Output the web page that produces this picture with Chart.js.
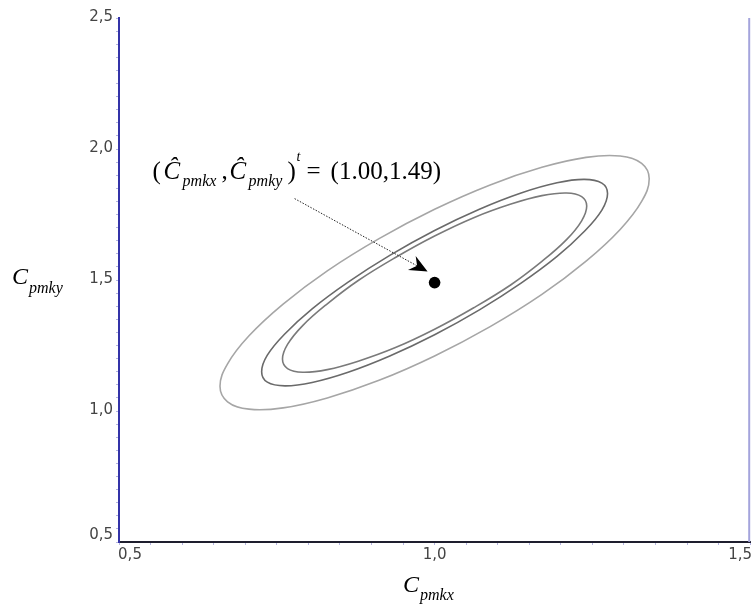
<!DOCTYPE html>
<html>
<head>
<meta charset="utf-8">
<script src="https://cdn.jsdelivr.net/npm/chart.js@4"></script>
<style>
  html, body { margin: 0; padding: 0; background: #fff; }
</style>
</head>
<body>
<canvas id="myChart" width="756" height="606"></canvas>
<script>
// tick labels
const xTicks = [0.5, 1.0, 1.5];
const yTicks = [0.5, 1.0, 1.5, 2.0, 2.5];

// point estimate
const estimate = [[1.00, 1.49]];

// confidence regions (inner, middle, outer)
const ellipseInner = [
    [1.241, 1.782], [1.233, 1.818], [1.209, 1.832], [1.170, 1.822], [1.121, 1.790], [1.062, 1.738],
    [1.000, 1.668], [0.938, 1.586], [0.879, 1.498], [0.830, 1.409], [0.791, 1.326], [0.767, 1.254],
    [0.759, 1.198], [0.767, 1.162], [0.791, 1.148], [0.830, 1.158], [0.879, 1.190], [0.938, 1.242],
    [1.000, 1.312], [1.062, 1.394], [1.121, 1.482], [1.170, 1.571], [1.209, 1.654], [1.233, 1.726]
];
const ellipseMiddle = [
    [1.274, 1.830], [1.265, 1.870], [1.237, 1.884], [1.194, 1.871], [1.137, 1.832], [1.071, 1.770],
    [1.000, 1.689], [0.929, 1.594], [0.863, 1.492], [0.806, 1.390], [0.763, 1.295], [0.735, 1.213],
    [0.726, 1.150], [0.735, 1.110], [0.763, 1.096], [0.806, 1.109], [0.863, 1.148], [0.929, 1.210],
    [1.000, 1.291], [1.071, 1.386], [1.137, 1.488], [1.194, 1.590], [1.237, 1.685], [1.265, 1.767]
];
const ellipseOuter = [
    [1.340, 1.886], [1.328, 1.945], [1.294, 1.973], [1.240, 1.968], [1.170, 1.930], [1.088, 1.863],
    [1.000, 1.770], [0.912, 1.658], [0.830, 1.535], [0.760, 1.408], [0.706, 1.287], [0.672, 1.180],
    [0.660, 1.094], [0.672, 1.035], [0.706, 1.007], [0.760, 1.012], [0.830, 1.050], [0.912, 1.117],
    [1.000, 1.210], [1.088, 1.322], [1.170, 1.445], [1.240, 1.572], [1.294, 1.693], [1.328, 1.800]
];

function toPoints(arr) {
    return arr.map(p => ({ x: p[0], y: p[1] }));
}

// closed loop: one extra point on each side so the spline has no kink at the seam,
// the two outer segments are left undrawn
function loopPoints(arr) {
    const n = arr.length;
    return toPoints([arr[n - 1]].concat(arr, [arr[0], arr[1]]));
}

function fmt(v) {
    return v.toFixed(1).replace(".", ",");
}

function ellipseSet(arr, color) {
    const last = arr.length + 2;
    return {
        data: loopPoints(arr),
        showLine: true,
        borderColor: color,
        borderWidth: 1.6,
        pointRadius: 0,
        tension: 0.4,
        fill: false,
        segment: {
            borderColor: c => (c.p0DataIndex === 0 || c.p1DataIndex === last ? "rgba(0,0,0,0)" : undefined),
        },
    };
}

// text, arrow, frame and tick labels
const extras = {
    id: "extras",
    afterDraw(chart) {
        const ctx = chart.ctx;
        const a = chart.chartArea;
        const xs = chart.scales.x;
        const ys = chart.scales.y;
        ctx.save();

        // right frame line
        ctx.strokeStyle = "#a4a4dc";
        ctx.lineWidth = 2;
        ctx.beginPath();
        ctx.moveTo(a.right - 1, a.top);
        ctx.lineTo(a.right - 1, a.bottom);
        ctx.stroke();

        // tick labels
        ctx.font = '15px "DejaVu Sans"';
        ctx.fillStyle = "#444";
        ctx.textBaseline = "middle";
        ctx.textAlign = "center";
        xTicks.forEach(v => {
            let px = xs.getPixelForValue(v);
            px = Math.min(Math.max(px, a.left + 11), a.right - 10);
            ctx.fillText(fmt(v), px, a.bottom + 13);
        });
        ctx.textAlign = "right";
        yTicks.forEach(v => {
            let py = ys.getPixelForValue(v);
            py = Math.min(py, a.bottom - 6);
            ctx.fillText(fmt(v), a.left - 6, py - 1);
        });

        // axis titles
        ctx.fillStyle = "#000";
        ctx.textAlign = "left";
        ctx.textBaseline = "alphabetic";
        ctx.font = 'italic 24px "Liberation Serif"';
        ctx.fillText("C", 12, 284);
        ctx.font = 'italic 16px "Liberation Serif"';
        ctx.fillText("pmky", 29, 293);
        ctx.font = 'italic 24px "Liberation Serif"';
        ctx.fillText("C", 403, 592);
        ctx.font = 'italic 16px "Liberation Serif"';
        ctx.fillText("pmkx", 420, 600);

        // annotation, anchored on the estimate point
        const dx = xs.getPixelForValue(estimate[0][0]) - 437;
        const dy = ys.getPixelForValue(estimate[0][1]) - 279;
        const parts = [
            ["(", 155, 175, '25px "Liberation Serif"'],
            ["\u0108", 166, 175, 'italic 25px "Liberation Serif"'],
            ["pmkx", 185, 182, 'italic 16px "Liberation Serif"'],
            [",", 224, 175, '25px "Liberation Serif"'],
            ["\u0108", 232, 175, 'italic 25px "Liberation Serif"'],
            ["pmky", 251, 182, 'italic 16px "Liberation Serif"'],
            [")", 290, 175, '25px "Liberation Serif"'],
            ["t", 299, 157, 'italic 14px "Liberation Serif"'],
            ["=", 309, 175, '25px "Liberation Serif"'],
            ["(1.00,1.49)", 333, 175, '25px "Liberation Serif"'],
        ];
        parts.forEach(p => {
            ctx.font = p[3];
            ctx.fillText(p[0], p[1] + dx, p[2] + dy);
        });

        // dotted arrow
        const sx = 297 + dx, sy = 195 + dy;
        const tx = 430 + dx, ty = 268 + dy;
        const ang = Math.atan2(ty - sy, tx - sx);
        ctx.strokeStyle = "#222";
        ctx.lineWidth = 1;
        ctx.setLineDash([1.5, 1.5]);
        ctx.beginPath();
        ctx.moveTo(sx, sy);
        ctx.lineTo(tx - 10 * Math.cos(ang), ty - 10 * Math.sin(ang));
        ctx.stroke();
        ctx.setLineDash([]);
        ctx.translate(tx, ty);
        ctx.rotate(ang);
        ctx.fillStyle = "#000";
        ctx.beginPath();
        ctx.moveTo(0, 0);
        ctx.lineTo(-18, -8);
        ctx.lineTo(-12, 0);
        ctx.lineTo(-18, 8);
        ctx.closePath();
        ctx.fill();

        ctx.restore();
    },
};

const ctx = document.getElementById("myChart");
new Chart(ctx, {
    type: "scatter",
    data: {
        datasets: [
            ellipseSet(ellipseOuter, "#a6a6a6"),
            ellipseSet(ellipseMiddle, "#6a6a6a"),
            ellipseSet(ellipseInner, "#7a7a7a"),
            {
                data: toPoints(estimate),
                pointRadius: 5.8,
                pointBackgroundColor: "#000",
                pointBorderWidth: 0,
            },
        ],
    },
    options: {
        responsive: false,
        animation: false,
        layout: { padding: { top: 18, right: 4, left: 0, bottom: 0 } },
        plugins: { legend: { display: false }, tooltip: { enabled: false } },
        scales: {
            x: {
                type: "linear",
                min: 0.5,
                max: 1.5,
                ticks: { display: false, stepSize: 0.05, autoSkip: false },
                grid: { drawOnChartArea: false, drawTicks: true, tickLength: 3, color: "#b4b4e0" },
                border: { color: "#1e1e2e", width: 2 },
                afterFit(scale) {
                    scale.height = 64;
                    scale.paddingLeft = 0;
                    scale.paddingRight = 0;
                },
            },
            y: {
                type: "linear",
                min: 0.5,
                max: 2.5,
                ticks: { display: false, stepSize: 0.05, autoSkip: false },
                grid: { drawOnChartArea: false, drawTicks: true, tickLength: 3, color: "#b4b4e0" },
                border: { color: "#3333a8", width: 2 },
                afterFit(scale) {
                    scale.width = 119;
                    scale.paddingTop = 0;
                    scale.paddingBottom = 0;
                },
            },
        },
    },
    plugins: [extras],
});
</script>
</body>
</html>
